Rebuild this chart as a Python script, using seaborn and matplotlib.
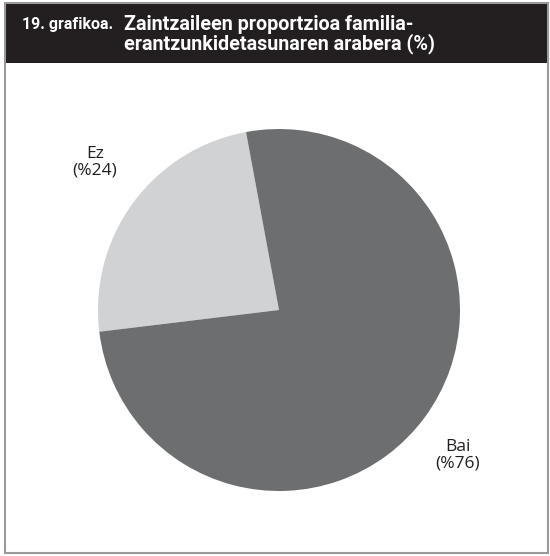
import matplotlib
matplotlib.use("Agg")
import matplotlib.pyplot as plt
from matplotlib.patches import Rectangle
import seaborn as sns

categories = ["Ez", "Bai"]
values = [24, 76]
labels = ["Ez\n(%24)", "Bai\n(%76)"]
colors = ["#d1d2d4", "#6d6e70"]
title_lines = ["Zaintzaileen proportzioa familia-", "erantzunkidetasunaren arabera (%)"]
fig_number = "19. grafikoa."

sns.set_theme(style="white")
plt.rcParams['font.family'] = ['Roboto', 'DejaVu Sans']

W, H = 550, 556
fig = plt.figure(figsize=(W / 100, H / 100), dpi=100)
fig.patch.set_facecolor("white")

# frame and header
fig.patches.append(Rectangle((5 / W, 3 / H), 543 / W, 550 / H, transform=fig.transFigure,
                             facecolor="none", edgecolor="#9a9a9a", linewidth=1.5, zorder=5))
fig.patches.append(Rectangle((5 / W, 1 - 63 / H), 543 / W, 60 / H, transform=fig.transFigure,
                             facecolor="#231f20", edgecolor="none", zorder=1))

fig.text(22 / W, 1 - 29.5 / H, fig_number, color="white", fontsize=11.5, fontweight="bold",
         ha="left", va="baseline", zorder=6)
for i, line in enumerate(title_lines):
    fig.text(124 / W, 1 - (29.5 + 19.5 * i) / H, line, color="white", fontsize=14.2,
             fontweight="bold", ha="left", va="baseline", zorder=6)

cx, cy, r = 279, 310, 181
ax = fig.add_axes([(cx - r) / W, (H - cy - r) / H, 2 * r / W, 2 * r / H])
ax.set_zorder(3)
ax.pie(values, colors=colors, startangle=100.5, counterclock=True,
       wedgeprops=dict(linewidth=0))
ax.set_xlim(-1, 1)
ax.set_ylim(-1, 1)
ax.set_aspect("equal")
ax.axis("off")

label_pos = {"Ez": (95, 162), "Bai": (458, 455)}
for cat, lab in zip(categories, labels):
    px, py = label_pos[cat]
    ax.text((px - cx) / r, (cy - py) / r, lab, ha="center", va="center",
            fontsize=12.5, color="#231f20", linespacing=1.0,
            family=['Open Sans', 'DejaVu Sans'], clip_on=False)

fig.savefig("out.png", dpi=100)
